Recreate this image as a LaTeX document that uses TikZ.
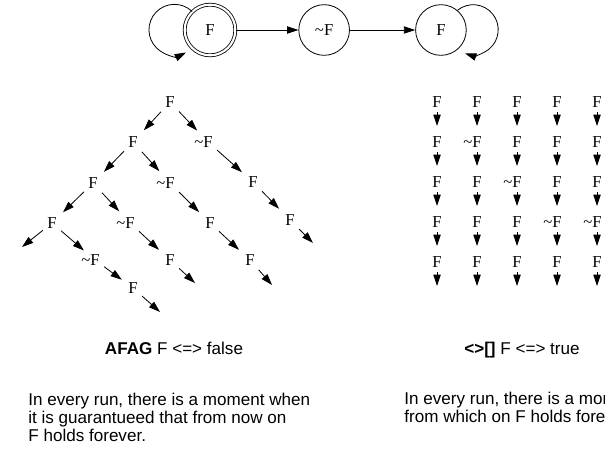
\documentclass[tikz,border=0pt]{standalone}
\usepackage{fontspec}
\setmainfont{Liberation Serif}
\setsansfont{Liberation Sans}
\usetikzlibrary{automata, positioning, arrows.meta}
\tikzset{->,>={Triangle[length=8.5pt,width=5.5pt]},
node distance=47pt,
every state/.style={draw, minimum size=38pt, inner sep=0pt, font=\fontsize{12.5}{14}\selectfont},
accepting/.style={double, double distance=1.6pt},
lbl/.style={inner sep=3pt, font=\fontsize{12.5}{14}\selectfont},
link/.style={shorten >=2pt},
note/.style={font=\sffamily\fontsize{12.8}{13.3}\selectfont, inner sep=0pt}}
\newcommand{\nF}{\llap{\textasciitilde}F}

\begin{document}
\begin{tikzpicture}[x=0.75pt, y=0.75pt, line width=0.6pt]
\useasboundingbox (0,0) rectangle (605,-456);
\clip (0,0) rectangle (605,-456);
% the run automaton
\node[state,accepting] (q0) at (210,-30) {F};
\node[state,right=47pt of q0] (q1) {\textasciitilde F};
\node[state,right=49pt of q1] (q2) {F};
\draw
(q0) edge (q1)
(q1) edge (q2);
\draw (q0.134) arc[start angle=46, end angle=297, radius=19.1pt];
\draw (q2.50) arc[start angle=129, end angle=-109, radius=18.75pt];
% tree of runs
\node[lbl] (t04) at (170,-102) {F};
\node[lbl] (t13) at (133,-142) {F};
\node[lbl] (t15) at (208,-142) {\nF};
\node[lbl] (t22) at (93,-183) {F};
\node[lbl] (t24) at (170,-183) {\nF};
\node[lbl] (t26) at (253,-182) {F};
\node[lbl] (t31) at (52,-223) {F};
\node[lbl] (t33) at (130,-223) {\nF};
\node[lbl] (t35) at (210,-223) {F};
\node[lbl] (t37) at (290,-220) {F};
\node[lbl] (t42) at (95,-260) {\nF};
\node[lbl] (t44) at (170,-260) {F};
\node[lbl] (t46) at (250,-260) {F};
\node[lbl] (t53) at (133,-288) {F};
\coordinate (e1) at (22,-247);
\coordinate (e2) at (313,-243);
\coordinate (e3) at (272,-285);
\coordinate (e4) at (195,-283);
\coordinate (e5) at (160,-312);
\draw[link]
(t04) edge (t13) (t13) edge (t22) (t22) edge (t31)
(t04) edge (t15) (t15) edge (t26) (t26) edge (t37)
(t13) edge (t24) (t24) edge (t35) (t35) edge (t46)
(t22) edge (t33) (t33) edge (t44)
(t31) edge (t42) (t42) edge (t53);
\draw (t31) -- (e1);
\draw (t37) -- (e2);
\draw (t46) -- (e3);
\draw (t44) -- (e4);
\draw (t53) -- (e5);
% grid of runs
\foreach \lbls [count=\r] in {{F,F,F,F,F},{F,\nF,F,F,F},{F,F,\nF,F,F},{F,F,F,\nF,\nF},{F,F,F,F,F}}
  \foreach \t [count=\c] in \lbls {
    \node[lbl] (g\r\c) at ({397+40*\c},{-62-40*\r}) {\t};
    \coordinate (h\r\c) at ({397+40*\c},{-86-40*\r});
    \draw (g\r\c) -- (h\r\c);
  }
% captions
\node[note, anchor=base] (cap1) at (174,-354) {\textbf{AFAG} F <=> false};
\node[note, anchor=base] (cap2) at (522,-354) {\textbf{<>[]} F <=> true};
\node[note, align=left, anchor=base west] (txt1) at (28,-441)
  {In every run, there is a moment when\\it is guarantueed that from now on\\F holds forever.};
\node[note, align=left, anchor=base west] (txt2) at (404,-422.5)
  {In every run, there is a moment\\from which on F holds forever.};
\end{tikzpicture}
\end{document}
